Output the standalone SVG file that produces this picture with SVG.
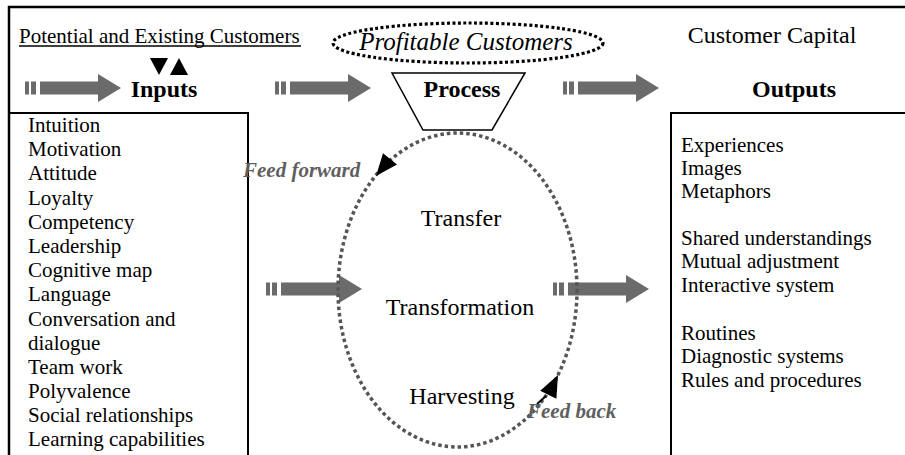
<svg xmlns="http://www.w3.org/2000/svg" width="905" height="455" viewBox="0 0 905 455">
<style>
text{font-family:"Liberation Serif","Times New Roman",serif;fill:#000}
.t{font-size:21px}
.c{font-size:24px;text-anchor:middle}
.b{font-size:24px;font-weight:bold;text-anchor:middle}
.fi{font-size:21px;font-weight:bold;font-style:italic;fill:#5f5f5f}
.pi{font-size:25px;font-style:italic;text-anchor:middle}
.frame{fill:none;stroke:#000;stroke-width:2.5}
.box{fill:none;stroke:#000;stroke-width:2}
.gray{fill:#6b6b6b}
.loop{fill:none;stroke:#555;stroke-width:3.5;stroke-dasharray:3.5 3}
.pc{fill:none;stroke:#000;stroke-width:3.2;stroke-dasharray:3 2.5}
.head{fill:#000}
</style>
<defs>
<g id="fat-arrow" class="gray">
<rect x="0" y="-6.5" width="4" height="13"/>
<rect x="6" y="-6.5" width="5" height="13"/>
<rect x="15" y="-6.5" width="58" height="13"/>
<polygon points="73,-14 96,0 73,14"/>
</g>
</defs>
<g id="frame">
<polyline class="frame" points="9,455 9,7 905,7"/>
</g>
<g id="customers">
<text class="t" x="19" y="43">Potential and Existing Customers</text>
<line x1="19" y1="46" x2="301" y2="46" stroke="#000" stroke-width="1.3"/>
<polygon points="150,58 168,58 159,75" fill="#000"/>
<polygon points="170,75 188,75 179,58" fill="#000"/>
</g>
<g id="profitable">
<ellipse class="pc" cx="468" cy="43" rx="135" ry="20"/>
<text class="pi" x="466" y="50">Profitable Customers</text>
</g>
<g id="capital">
<text class="c" x="772" y="43">Customer Capital</text>
</g>
<g id="inputs">
<text class="b" x="164" y="97">Inputs</text>
<rect class="box" x="9" y="113" width="239" height="350"/>
<text class="t" x="28" y="132">Intuition</text>
<text class="t" x="28" y="156">Motivation</text>
<text class="t" x="28" y="180">Attitude</text>
<text class="t" x="28" y="205">Loyalty</text>
<text class="t" x="28" y="229">Competency</text>
<text class="t" x="28" y="253">Leadership</text>
<text class="t" x="28" y="277">Cognitive map</text>
<text class="t" x="28" y="301">Language</text>
<text class="t" x="28" y="326">Conversation and</text>
<text class="t" x="28" y="350">dialogue</text>
<text class="t" x="28" y="374">Team work</text>
<text class="t" x="28" y="398">Polyvalence</text>
<text class="t" x="28" y="422">Social relationships</text>
<text class="t" x="28" y="446">Learning capabilities</text>
</g>
<g id="process">
<polygon points="392,73 525,73 492,130 423,130" fill="#fff" stroke="#000" stroke-width="1.5"/>
<text class="b" x="462" y="97">Process</text>
</g>
<g id="outputs">
<text class="b" x="794" y="97">Outputs</text>
<rect class="box" x="671" y="113" width="250" height="350"/>
<text class="t" x="681" y="152">Experiences</text>
<text class="t" x="681" y="175">Images</text>
<text class="t" x="681" y="198">Metaphors</text>
<text class="t" x="681" y="245">Shared understandings</text>
<text class="t" x="681" y="268">Mutual adjustment</text>
<text class="t" x="681" y="292">Interactive system</text>
<text class="t" x="681" y="340">Routines</text>
<text class="t" x="681" y="363">Diagnostic systems</text>
<text class="t" x="681" y="387">Rules and procedures</text>
</g>
<g id="stages">
<text class="c" x="461" y="226">Transfer</text>
<text class="c" x="460" y="315">Transformation</text>
<text class="c" x="462" y="404">Harvesting</text>
</g>
<g id="connectors">
<use href="#fat-arrow" x="25" y="88"/>
<use href="#fat-arrow" x="275" y="88"/>
<use href="#fat-arrow" x="563" y="88"/>
<use href="#fat-arrow" x="266" y="289"/>
<use href="#fat-arrow" x="553" y="289"/>
<ellipse class="loop" cx="457.5" cy="290" rx="119.5" ry="157"/>
<polygon class="head" points="376,176 397,164.6 383,153.2"/>
<polygon class="head" points="558,375 556.4,398.8 540.2,390.8"/>
<line x1="546" y1="396" x2="537" y2="404" stroke="#000" stroke-width="2"/>
<text class="fi" x="243" y="177">Feed forward</text>
<text class="fi" x="527" y="418">Feed back</text>
</g>
</svg>
